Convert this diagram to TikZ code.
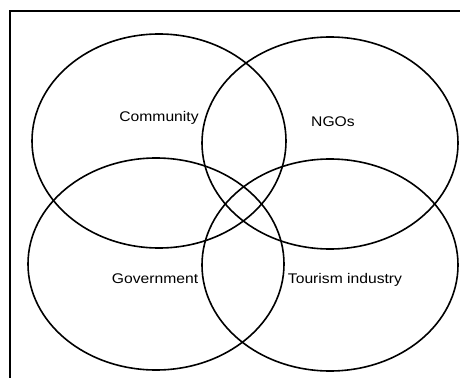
\documentclass[tikz,border=0pt]{standalone}
\usepackage{fontspec}
\setmainfont{Liberation Sans}
\begin{document}
\begin{tikzpicture}[x=1pt,y=-1pt,
  setring/.style={draw=black,line width=1.6pt},
  frameline/.style={draw=black,line width=1.8pt},
  setlabel/.style={font=\fontsize{14}{16}\selectfont,xscale=1.12,inner sep=0pt}]
\useasboundingbox (0,0) rectangle (460,385);
% partial frame
\coordinate (ftr) at (460,11);
\coordinate (ftl) at (10,11);
\coordinate (fbl) at (10,378);
\draw[frameline] (ftr) -- (ftl) -- (fbl);
% four overlapping sets
\draw[setring] (159,141) ellipse [x radius=127, y radius=107];
\draw[setring] (330,143) ellipse [x radius=128, y radius=106];
\draw[setring] (156,264) ellipse [x radius=128, y radius=106];
\draw[setring] (330,265) ellipse [x radius=128, y radius=106];
% labels
\node[setlabel] (community) at (159,118) {Community};
\node[setlabel] (ngos) at (333,122) {NGOs};
\node[setlabel] (government) at (155,279) {Government};
\node[setlabel] (tourism) at (345,280) {Tourism industry};
\end{tikzpicture}
\end{document}
